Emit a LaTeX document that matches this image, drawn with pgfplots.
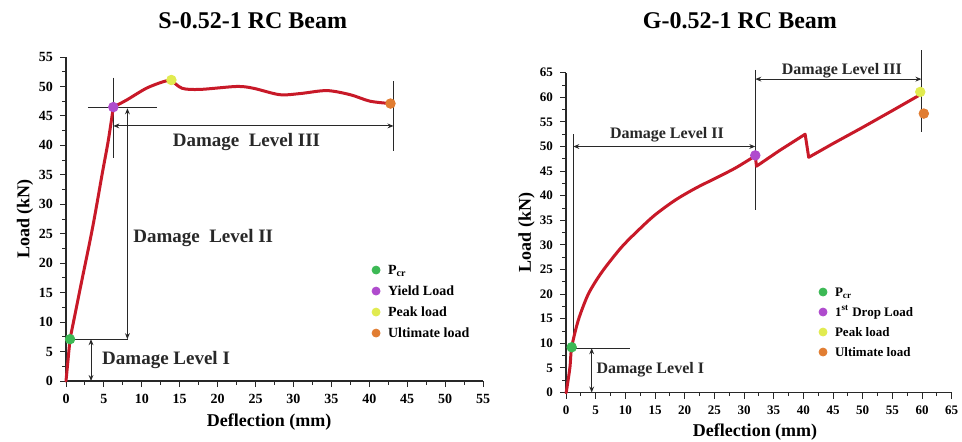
\documentclass[border=0pt]{standalone}
\usepackage{fontspec}
\setmainfont{Liberation Serif}
\usepackage{pgfplots}
\pgfplotsset{compat=1.18}
\usetikzlibrary{arrows.meta}

\definecolor{beamred}{RGB}{200,25,40}
\definecolor{mgreen}{RGB}{60,185,85}
\definecolor{mpurple}{RGB}{175,75,205}
\definecolor{myellow}{RGB}{225,235,80}
\definecolor{morange}{RGB}{225,125,50}
\definecolor{annc}{RGB}{40,40,40}

\tikzset{
  annl/.style={annc, line width=0.5pt},
  dbl/.style={annc, line width=0.5pt,
    {Stealth[length=3pt,width=2.4pt]}-{Stealth[length=3pt,width=2.4pt]}},
  atext/.style={font=\fontsize{9.5}{10}\selectfont\bfseries, text=annc},
  btext/.style={font=\fontsize{8}{9}\selectfont\bfseries, text=annc},
}

\pgfplotsset{
  beam/.style={
    scale only axis,
    axis x line*=bottom, axis y line*=left,
    axis line style={line width=0.6pt, annc},
    clip=false,
    tick align=outside,
    major tick length=3pt, minor tick length=1.8pt,
    minor tick num=1,
    every tick/.style={annc, line width=0.5pt},
    /pgf/number format/assume math mode=true,
    tick label style={font=\fontsize{7}{8}\selectfont\bfseries},
    label style={font=\fontsize{9}{10}\selectfont\bfseries},
    every axis title shift=0pt,
    title style={font=\fontsize{12}{13}\selectfont\bfseries, anchor=center},
    legend style={draw=none, fill=none, inner sep=0pt, outer sep=0pt,
      row sep=4.5pt, column sep=4pt,
      font=\fontsize{7}{8}\selectfont\bfseries,
      nodes={inner sep=0pt, text height=5pt, text depth=1pt}},
    legend cell align=left,
    xlabel={Deflection (mm)}, ylabel={Load (kN)},
  },
  loadcurve/.style={beamred, line width=1.5pt, line join=round, line cap=round, no marks},
  pt/.style={only marks, mark=*, mark size=2.4pt, color=#1,
    legend image code/.code={\draw[##1, mark size=2pt] plot coordinates {(0pt,0pt)};}},
}

\begin{document}
\begin{tikzpicture}
\path[use as bounding box] (0,0) rectangle (481pt,-220.5pt);

% ---------------- steel-reinforced beam ----------------
\begin{axis}[beam,
  at={(33pt,-190.5pt)}, anchor=south west,
  width=208.5pt, height=162pt,
  xmin=0, xmax=55, ymin=0, ymax=55,
  xtick={0,5,...,55}, ytick={0,5,...,55},
  title={S-0.52-1 RC Beam},
  title style={at={(axis description cs:0.448,1.111)}},
  xlabel style={at={(axis description cs:0.487,-0.1256)}, anchor=center},
  ylabel style={at={(axis description cs:-0.098,0.5)}, anchor=center},
  legend style={at={(axis description cs:0.734,0.361)}, anchor=north west},
]
% damage level annotations
\draw[annl] (axis cs:6.24,51.5) -- (axis cs:6.24,37.8);
\draw[annl] (axis cs:2.9,46.5) -- (axis cs:12.0,46.5);
\draw[dbl]  (axis cs:6.24,43.3) -- (axis cs:43.2,43.3);
\draw[annl] (axis cs:43.2,50.9) -- (axis cs:43.2,39.0);
\draw[dbl]  (axis cs:8.1,7.1) -- (axis cs:8.1,46.3);
\draw[annl] (axis cs:0,7.1) -- (axis cs:8.2,7.1);
\draw[dbl]  (axis cs:3.3,0) -- (axis cs:3.3,7.1);
\node[atext] at (axis cs:23.8,40.6) {Damage\ \ Level III};
\node[atext] at (axis cs:18.1,24.2) {Damage\ \ Level II};
\node[atext] at (axis cs:13.2,3.6) {Damage Level I};

% load-deflection response
\addplot[loadcurve, forget plot] coordinates {(0,0) (0.53,7.1)};
\addplot[loadcurve, smooth, tension=0.6, forget plot] coordinates {
  (0.53,7.1) (2.0,16.5) (3.5,26.0) (4.75,35.0) (5.6,41.0) (6.24,46.5)};
\addplot[loadcurve, smooth, tension=0.5, forget plot] coordinates {
  (6.24,46.5) (8.0,47.7) (10.6,49.7) (12.8,50.8) (13.9,51.1)};
\addplot[loadcurve, smooth, tension=0.5, forget plot] coordinates {
  (13.9,51.1) (15.3,49.7) (17.7,49.5) (22.5,50.0) (24.7,49.7) (28.2,48.6)
  (30.9,48.8) (34.4,49.3) (37.5,48.6) (40.1,47.5) (42.8,47.1)};

% characteristic loads
\addplot[pt=mgreen]  coordinates {(0.53,7.1)};
\addlegendentry{P\textsubscript{cr}}
\addplot[pt=mpurple] coordinates {(6.24,46.5)};
\addlegendentry{Yield Load}
\addplot[pt=myellow] coordinates {(13.9,51.1)};
\addlegendentry{Peak load}
\addplot[pt=morange] coordinates {(42.8,47.1)};
\addlegendentry{Ultimate load}
\end{axis}

% ---------------- GFRP-reinforced beam ----------------
\begin{axis}[beam,
  at={(283pt,-196.25pt)}, anchor=south west,
  width=192.85pt, height=159.9pt,
  xmin=0, xmax=65, ymin=0, ymax=65,
  xtick={0,5,...,65}, ytick={0,5,...,65},
  tick label style={font=\fontsize{6.5}{7}\selectfont\bfseries},
  title={G-0.52-1 RC Beam},
  title style={at={(axis description cs:0.451,1.162)}},
  xlabel style={at={(axis description cs:0.49,-0.1226)}, anchor=center},
  ylabel style={at={(axis description cs:-0.102,0.5)}, anchor=center},
  legend style={at={(axis description cs:0.656,0.333)}, anchor=north west,
    font=\fontsize{6.5}{7}\selectfont\bfseries, row sep=4pt},
]
% damage level annotations
\draw[annl] (axis cs:31.9,65.6) -- (axis cs:31.9,37.1);
\draw[dbl]  (axis cs:31.9,63.7) -- (axis cs:59.9,63.7);
\draw[annl] (axis cs:59.9,69.6) -- (axis cs:59.9,53.0);
\draw[annl] (axis cs:1.23,9.1) -- (axis cs:1.23,52.5);
\draw[dbl]  (axis cs:1.23,50) -- (axis cs:31.9,50);
\draw[annl] (axis cs:0.96,9.0) -- (axis cs:10.7,9.0);
\draw[dbl]  (axis cs:4.33,0) -- (axis cs:4.33,9.0);
\node[btext] at (axis cs:46.5,65.5) {Damage Level III};
\node[btext] at (axis cs:17.0,52.3) {Damage Level II};
\node[btext] at (axis cs:14.2,4.6) {Damage Level I};

% load-deflection response
\addplot[loadcurve, smooth, tension=0.5, forget plot] coordinates {
  (0,0) (0.1,0.5) (0.67,5.2) (0.96,9.2) (2.07,14.7) (3.6,19.6) (5.0,22.6)
  (6.6,25.4) (9.4,29.6) (12.2,33.0) (15.0,36.1) (18.4,39.1) (21.8,41.5)
  (25.1,43.5) (28.5,45.6) (31.9,48.1)};
\addplot[loadcurve, forget plot] coordinates {
  (31.9,48.1) (32.1,46.0) (36.0,49.2) (40.3,52.5) (40.9,47.8) (45.0,50.6)
  (50.0,53.9) (55.0,57.3) (59.5,60.4)};

% characteristic loads
\addplot[pt=mgreen]  coordinates {(0.96,9.2)};
\addlegendentry{P\textsubscript{cr}}
\addplot[pt=mpurple] coordinates {(31.9,48.2)};
\addlegendentry{1\textsuperscript{st} Drop Load}
\addplot[pt=myellow] coordinates {(59.7,61.1)};
\addlegendentry{Peak load}
\addplot[pt=morange] coordinates {(60.3,56.7)};
\addlegendentry{Ultimate load}
\end{axis}
\end{tikzpicture}
\end{document}
